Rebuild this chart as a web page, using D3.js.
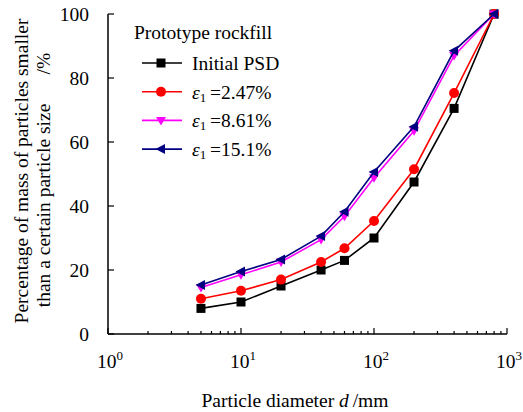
<!DOCTYPE html>
<html>
<head>
<meta charset="utf-8">
<script src="https://cdn.jsdelivr.net/npm/d3@7"></script>
<style>
  html, body { margin: 0; padding: 0; background: #fff; }
</style>
</head>
<body>
<svg id="chart" width="523" height="412" font-family="'Liberation Serif', 'Times New Roman', 'DejaVu Serif', serif"></svg>
<script>
// Particle size distribution of prototype rockfill at several axial strains
const diameters = [5, 10, 20, 40, 60, 100, 200, 400, 800];
const initialPSD = [8, 10, 15, 20, 23, 30, 47.5, 70.5, 100];
const strain247 = [11, 13.5, 17, 22.5, 26.8, 35.3, 51.5, 75.3, 100];
const strain861 = [14.5, 18.5, 22.5, 29.5, 36.8, 48.8, 63.5, 87, 100];
const strain151 = [15.3, 19.5, 23.3, 30.6, 38.2, 50.6, 64.8, 88.5, 100];
const yTicks = [0, 20, 40, 60, 80, 100];
const xTickExps = [0, 1, 2, 3];

const series = [
  { label: "Initial PSD", strain: null, values: initialPSD, color: "#000000", marker: "square" },
  { label: "=2.47%", strain: true, values: strain247, color: "#ff0000", marker: "circle" },
  { label: "=8.61%", strain: true, values: strain861, color: "#ff00ff", marker: "triDown" },
  { label: "=15.1%", strain: true, values: strain151, color: "#000080", marker: "triLeft" }
];

const FS = 19.5;
const svg = d3.select("#chart");
const x = d3.scaleLog().domain([1, 1000]).range([108, 507]);
const y = d3.scaleLinear().domain([0, 100]).range([334, 14]);

// Axes: left and bottom only, ticks pointing inward
const gx = svg.append("g").attr("transform", `translate(0,${y(0)})`);
gx.append("line").attr("x1", x(1)).attr("x2", x(1000)).attr("stroke", "#000").attr("stroke-width", 1.5);
const minor = [];
for (let e = 0; e < 3; e++) for (let k = 2; k <= 9; k++) minor.push(k * Math.pow(10, e));
gx.selectAll(".minor").data(minor).enter().append("line")
  .attr("x1", d => x(d)).attr("x2", d => x(d)).attr("y1", 0).attr("y2", -3)
  .attr("stroke", "#000").attr("stroke-width", 1.2);
gx.selectAll(".major").data(xTickExps).enter().append("line")
  .attr("x1", d => x(Math.pow(10, d))).attr("x2", d => x(Math.pow(10, d))).attr("y1", 0).attr("y2", -6)
  .attr("stroke", "#000").attr("stroke-width", 1.2);
const xl = gx.selectAll(".xl").data(xTickExps).enter().append("text")
  .attr("x", d => x(Math.pow(10, d)) + 2).attr("y", 34).attr("text-anchor", "middle").attr("font-size", FS);
xl.append("tspan").text("10");
xl.append("tspan").attr("dy", -8).attr("font-size", 13).text(d => d);

const gy = svg.append("g").attr("transform", `translate(${x(1)},0)`);
gy.append("line").attr("y1", y(0)).attr("y2", y(100)).attr("stroke", "#000").attr("stroke-width", 1.5);
gy.selectAll(".yt").data(yTicks).enter().append("line")
  .attr("x1", 0).attr("x2", 6).attr("y1", d => y(d)).attr("y2", d => y(d))
  .attr("stroke", "#000").attr("stroke-width", 1.2);
gy.selectAll(".yl").data(yTicks).enter().append("text")
  .attr("x", -19).attr("y", d => y(d) + 7).attr("text-anchor", "end").attr("font-size", FS)
  .text(d => d);

// Axis titles
const xt = svg.append("text").attr("x", 295).attr("y", 407).attr("text-anchor", "middle").attr("font-size", FS);
xt.append("tspan").text("Particle diameter ");
xt.append("tspan").attr("font-style", "italic").text("d");
xt.append("tspan").text("\u2009/mm");

const yt = svg.append("g").attr("transform", "rotate(-90)");
yt.append("text").attr("x", -171).attr("y", 28).attr("text-anchor", "middle").attr("font-size", FS)
  .text("Percentage of mass of particles smaller");
yt.append("text").attr("x", -180).attr("y", 50).attr("text-anchor", "middle").attr("font-size", FS)
  .text("than a certain particle size\u2003\u2002/%");

// Marker shapes
function drawMarker(g, type, cx, cy, color) {
  if (type === "square") {
    g.append("rect").attr("x", cx - 4.5).attr("y", cy - 4.5).attr("width", 9).attr("height", 9).attr("fill", color);
  } else if (type === "circle") {
    g.append("circle").attr("cx", cx).attr("cy", cy).attr("r", 5).attr("fill", color);
  } else if (type === "triDown") {
    g.append("path").attr("d", `M${cx - 5},${cy - 3.5}L${cx + 5},${cy - 3.5}L${cx},${cy + 5}Z`).attr("fill", color);
  } else if (type === "triLeft") {
    g.append("path").attr("d", `M${cx - 5.5},${cy}L${cx + 4},${cy - 5}L${cx + 4},${cy + 5}Z`).attr("fill", color);
  }
}

const line = d3.line().x(d => x(d[0])).y(d => y(d[1]));
series.forEach(s => {
  const pts = diameters.map((d, i) => [d, s.values[i]]);
  const g = svg.append("g");
  g.append("path").attr("d", line(pts)).attr("fill", "none").attr("stroke", s.color).attr("stroke-width", 1.6);
  pts.forEach(p => drawMarker(g, s.marker, x(p[0]), y(p[1]), s.color));
});

// Legend
const lg = svg.append("g");
lg.append("text").attr("x", 134).attr("y", 39).attr("font-size", FS).text("Prototype rockfill");
series.forEach((s, i) => {
  const ry = 63 + i * 28.7;
  lg.append("line").attr("x1", 142).attr("x2", 182).attr("y1", ry).attr("y2", ry)
    .attr("stroke", s.color).attr("stroke-width", 1.6);
  drawMarker(lg, s.marker, 161, ry, s.color);
  const t = lg.append("text").attr("x", 192).attr("y", ry + 7).attr("font-size", FS);
  if (s.strain) {
    t.append("tspan").attr("font-style", "italic").text("ε");
    t.append("tspan").attr("font-size", 13).attr("dy", 3).text("1");
    t.append("tspan").attr("dy", -3).text("\u2009" + s.label);
  } else {
    t.text(s.label);
  }
});
</script>
</body>
</html>
